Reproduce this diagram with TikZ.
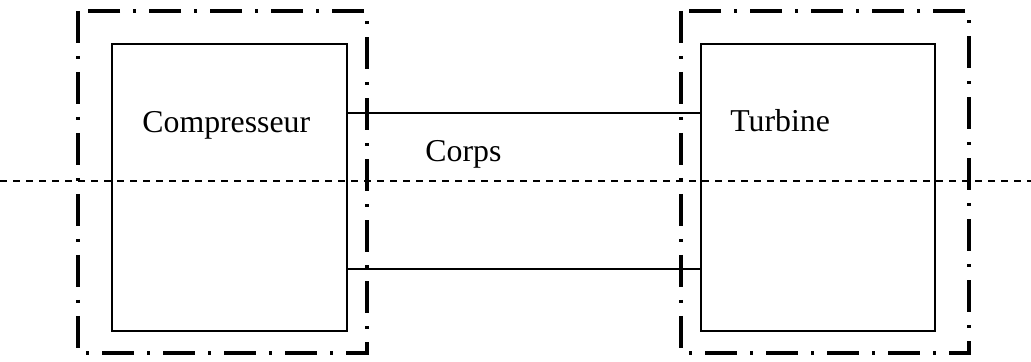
\documentclass[tikz,border=0pt]{standalone}
\usepackage{fontspec}
\setmainfont{Liberation Serif}
\tikzset{
  casing/.style={line width=2pt,dash pattern=on 16pt off 6.5pt on 1.5pt off 6.5pt},
  part/.style={line width=1pt},
  axis/.style={line width=0.6pt,dash pattern=on 3.5pt off 3pt},
  lbl/.style={anchor=base west,inner sep=0pt,font=\fontsize{15.9}{19}\selectfont}
}
\begin{document}
\begin{tikzpicture}[x=0.5pt,y=-0.5pt]
\useasboundingbox (0,0) rectangle (1031,362);
\begin{scope}
\coordinate (C1) at (112,44);
\coordinate (C2) at (347,331);
\coordinate (T1) at (701,44);
\coordinate (T2) at (935,331);
\coordinate (S1) at (347,113);
\coordinate (S2) at (701,113);
\coordinate (S3) at (347,269);
\coordinate (S4) at (701,269);

\draw[part] (C1) rectangle (C2);
\draw[part] (T1) rectangle (T2);
\draw[part] (S1) -- (S2);
\draw[part] (S3) -- (S4);

\draw[casing] (78,11) rectangle (367,353);
\draw[casing] (681,11) rectangle (969,353);

\coordinate (axL) at (0,181);
\coordinate (axR) at (1031,181);
\draw[axis] (axL) -- (axR);

\node[lbl] (comp) at (142,133) {Compresseur};
\node[lbl] (corps) at (425,162) {Corps};
\node[lbl] (turb) at (730,132) {Turbine};
\end{scope}
\end{tikzpicture}
\end{document}
